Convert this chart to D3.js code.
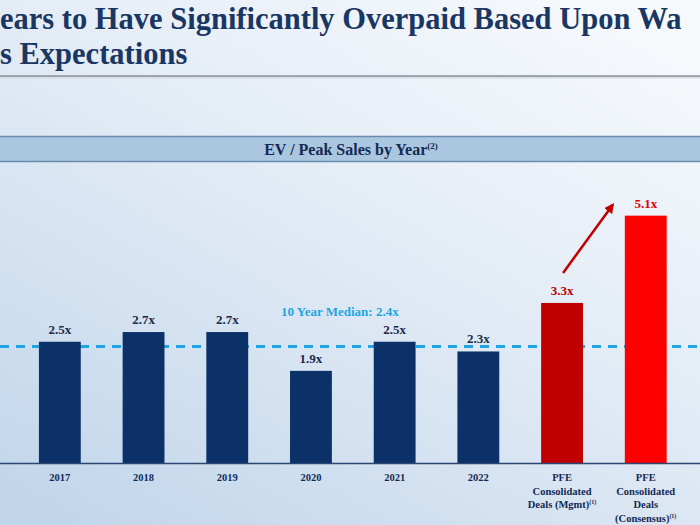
<!DOCTYPE html>
<html><head><meta charset="utf-8">
<script src="https://cdn.jsdelivr.net/npm/d3@7"></script>
<style>
html,body{margin:0;padding:0;width:700px;height:525px;overflow:hidden;}
svg{display:block;}
</style></head>
<body>
<svg id="chart" width="700" height="525" font-family="'Liberation Serif', 'Times New Roman', 'DejaVu Serif', serif" font-weight="bold"></svg>
<script>
const titleLines = ["ears to Have Significantly Overpaid Based Upon Wa", "s Expectations"];
const panelTitle = "EV / Peak Sales by Year";
const panelNote = "(2)";
const categories = ["2017","2018","2019","2020","2021","2022","PFE Mgmt","PFE Consensus"];
const categoryLines = [["2017"],["2018"],["2019"],["2020"],["2021"],["2022"],
  ["PFE","Consolidated","Deals (Mgmt)"],["PFE","Consolidated","Deals","(Consensus)"]];
const categoryNotes = ["","","","","","","(1)","(1)"];
const values = [2.5, 2.7, 2.7, 1.9, 2.5, 2.3, 3.3, 5.1];
const valueLabels = ["2.5x","2.7x","2.7x","1.9x","2.5x","2.3x","3.3x","5.1x"];
const barColors = ["#0b3168","#0b3168","#0b3168","#0b3168","#0b3168","#0b3168","#c00000","#ff0000"];
const labelColors = ["#1c2a4a","#1c2a4a","#1c2a4a","#1c2a4a","#1c2a4a","#1c2a4a","#c00000","#e00000"];
const median = 2.4;
const medianLabel = "10 Year Median: 2.4x";

const svg = d3.select("#chart");
const W = 700, H = 525;
const defs = svg.append("defs");
const bg = defs.append("linearGradient").attr("id","bg").attr("x1","0.85").attr("y1","0").attr("x2","0.1").attr("y2","1");
bg.append("stop").attr("offset","0").attr("stop-color","#f6f9fc");
bg.append("stop").attr("offset","0.45").attr("stop-color","#e2ebf5");
bg.append("stop").attr("offset","1").attr("stop-color","#c2d6eb");
svg.append("rect").attr("width",W).attr("height",H).attr("fill","url(#bg)");

const mk = defs.append("marker").attr("id","arrow").attr("viewBox","0 0 10 10").attr("refX",8).attr("refY",5)
  .attr("markerWidth",4).attr("markerHeight",4).attr("orient","auto");
mk.append("path").attr("d","M0,0 L10,5 L0,10 Z").attr("fill","#c00000");

// Title
svg.selectAll("text.title").data(titleLines).join("text").attr("class","title")
  .attr("x",0).attr("y",(d,i)=>29+i*35)
  .attr("fill","#1a3663").attr("font-size",30.5).text(d=>d);
svg.append("line").attr("x1",0).attr("x2",W).attr("y1",77.5).attr("y2",77.5).attr("stroke","#d4dbe3").attr("stroke-width",2);
svg.append("line").attr("x1",0).attr("x2",W).attr("y1",76).attr("y2",76).attr("stroke","#8a8f96").attr("stroke-width",1.6);

// Panel header band
svg.append("rect").attr("x",0).attr("y",136).attr("width",W).attr("height",26).attr("fill","#abc6df");
svg.append("line").attr("x1",0).attr("x2",W).attr("y1",136.5).attr("y2",136.5).attr("stroke","#6a8cae").attr("stroke-width",1.5);
svg.append("line").attr("x1",0).attr("x2",W).attr("y1",161.5).attr("y2",161.5).attr("stroke","#6a8cae").attr("stroke-width",1.5);
const pt = svg.append("text").attr("x",351).attr("y",154.5).attr("text-anchor","middle").attr("fill","#132a55").attr("font-size",16);
pt.append("tspan").text(panelTitle);
pt.append("tspan").attr("font-size",9).attr("dy",-6).text(panelNote);

// Scales
const baseY = 463;
const x = d3.scaleBand().domain(categories).range([18, 687.6]).paddingInner(0.5).paddingOuter(0.25);
const y = d3.scaleLinear().domain([0, 6]).range([baseY, baseY - 6*48.5]);

// Median dashed line
svg.append("line").attr("x1",0).attr("x2",W).attr("y1",y(median)).attr("y2",y(median))
  .attr("stroke","#1ea6e2").attr("stroke-width",3).attr("stroke-dasharray","9,7");

// Bars
svg.selectAll("rect.bar").data(values).join("rect").attr("class","bar")
  .attr("x",(d,i)=>x(categories[i])).attr("width",x.bandwidth())
  .attr("y",d=>y(d)).attr("height",d=>baseY-y(d)).attr("fill",(d,i)=>barColors[i]);

// Value labels
svg.selectAll("text.val").data(values).join("text").attr("class","val")
  .attr("x",(d,i)=>x(categories[i])+x.bandwidth()/2).attr("y",d=>y(d)-8)
  .attr("text-anchor","middle").attr("font-size",13).attr("fill",(d,i)=>labelColors[i])
  .text((d,i)=>valueLabels[i]);

// Median label
svg.append("text").attr("x",(x("2020")+x("2021"))/2+x.bandwidth()/2-13).attr("y",y(median)-31)
  .attr("text-anchor","middle").attr("font-size",13).attr("fill","#1ea6e2").text(medianLabel);

// Axis baseline
const xAxis = d3.axisBottom(x).tickSize(0).tickFormat("");
const ax = svg.append("g").attr("transform",`translate(0,${baseY})`).call(xAxis);
ax.select(".domain").remove();
svg.append("line").attr("x1",0).attr("x2",W).attr("y1",baseY+0.5).attr("y2",baseY+0.5).attr("stroke","#2b4672").attr("stroke-width",1.5);

// Category labels
categoryLines.forEach((lines,i)=>{
  const t = svg.append("text").attr("x",x(categories[i])+x.bandwidth()/2).attr("y",baseY+18)
    .attr("text-anchor","middle").attr("font-size",10.5).attr("fill","#132a55");
  lines.forEach((ln,j)=>{
    t.append("tspan").attr("x",x(categories[i])+x.bandwidth()/2).attr("dy",j===0?0:13.5).text(ln);
    if(j===lines.length-1 && categoryNotes[i]){
      t.append("tspan").attr("font-size",6).attr("dy",-4).text(categoryNotes[i]);
    }
  });
});

// Arrow annotation
const cMgmt = x(categories[6]) + x.bandwidth()/2;
svg.append("line").attr("x1",cMgmt+1).attr("y1",y(values[6])-30)
  .attr("x2",x(categories[7])-12).attr("y2",y(values[7])-11)
  .attr("stroke","#c00000").attr("stroke-width",2.5).attr("marker-end","url(#arrow)");
</script>
</body></html>
